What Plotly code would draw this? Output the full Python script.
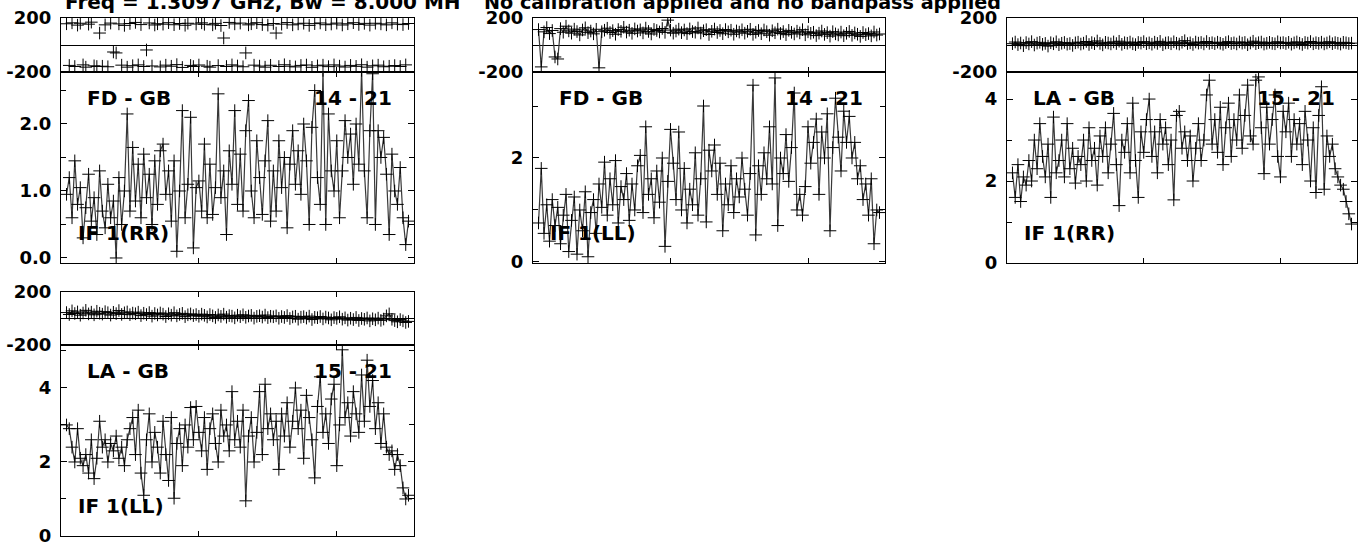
import plotly.graph_objects as go

W, H = 1366, 547

## channel numbers plotted (every second channel)
channels = list(range(4, 253, 2))

## phase (degrees) per baseline / polarisation
fdgb_rr_phase = [158, -152, 165, -160, 148, 162, -148, -165, 155, 170, -155, -160, 89, -158, 150, -162, 163, -52, -59, 157, -150, 146, -165, 160, -154,
                 168, -148, 152, -160, -37, 164, -156, 149, 158, -163, 155, -150, 166, -158, 151, -146, 160, -167, 147, 162, -152, -160, 156, -149, 165,
                 154, -158, -165, 150, 161, -153, 145, 52, -160, 168, -148, 157, -156, 163, -162, -59, 150, 158, -150, 166, -157, 152, -165, 148, -151,
                 160, 89, -160, 155, -147, 167, -158, 150, -163, 157, -152, 162, -149, 146, -166, 159, -155, 164, -150, 151, -161, 156, -148, 163, -157,
                 149, -164, 158, -152, 166, -159, 153, -147, 161, -165, 148, -155, 162, -150, 157, -162, 150, -158, 165, -153, 155, -160, 152, -148, 160]
fdgb_ll_phase = [115, -163, 98, 130, 85, 108, -89, -104, 122, 95, 140, 105, 88, 118, 100, 75, 112, 128, 92, 104, 83, 117, -170, 99, 110,
                 125, 93, 107, 80, 115, 102, 132, 96, 110, 87, 120, 104, 113, 90, 126, 101, 82, 116, 108, 97, 123, 94, 185, 111, 88,
                 104, 118, 92, 112, 85, 120, 100, 95, 127, 89, 106, 114, 78, 102, 119, 93, 108, 84, 115, 98, 110, 80, 105, 96, 113,
                 88, 102, 117, 79, 95, 108, 84, 112, 99, 73, 106, 91, 118, 86, 100, 77, 109, 94, 82, 103, 90, 114, 76, 98, 87,
                 95, 70, 88, 104, 79, 92, 66, 99, 83, 75, 96, 69, 87, 101, 72, 90, 80, 64, 93, 77, 85, 68, 97, 74, 82]
lagb_rr_phase = [10, 22, 3, 15, -5, 18, 8, 25, 0, 14, 20, 5, 12, -8, 17, 9, 24, 2, 13, 19, 6, 11, -3, 16, 21,
                 7, 14, 26, 4, 18, 10, 30, 12, 1, 20, 15, 8, 23, 11, 28, 5, 17, 13, 22, 9, 3, 19, 14, 25, 10,
                 16, 6, 21, 12, 27, 2, 15, 18, 9, 24, 13, 7, 20, 32, 11, 16, 4, 22, 14, 19, 8, 26, 12, 17, 10,
                 21, 13, 5, 18, 25, 11, 16, 8, 23, 14, 19, 2, 15, 28, 10, 17, 22, 7, 13, 20, 12, 9, 24, 15, 18,
                 11, 20, 6, 16, 23, 13, 4, 19, 14, 26, 9, 17, 12, 21, 8, 15, 24, 10, 18, 13, 7, 20, 16, 11, 14]
lagb_ll_phase = [45, 30, 58, 38, 50, 25, 42, 62, 35, 48, 28, 55, 40, 33, 52, 44, 26, 47, 37, 60, 31, 43, 50, 29, 41,
                 36, 48, 22, 40, 30, 45, 18, 38, 27, 42, 33, 15, 36, 25, 44, 20, 31, 39, 14, 28, 35, 22, 30, 17, 33,
                 24, 12, 30, 20, 8, 27, 16, 33, 10, 22, 18, 5, 25, 14, 28, 9, 19, 24, 3, 16, 21, 11, 26, 7, 17,
                 13, 20, 2, 15, 8, 22, 0, 12, 17, -5, 10, 14, 3, 18, -8, 9, 6, 15, -3, 11, 4, -10, 7, 1, 13,
                 -5, 5, -12, 2, -8, 8, -15, 0, -6, 4, -18, -2, -10, 3, -14, -4, 20, 35, -6, -16, -25, -8, -18, -30, -22]

## amplitude (Jy) per baseline / polarisation
fdgb_rr_amp = [0.95, 1.2, 0.6, 1.45, 0.8, 1.05, 0.3, 0.75, 1.25, 0.55, 0.9, 0.35, 1.3, 0.7, 0.45, 1.1, 0.6, 0.85, 0.0, 1.2, 0.5, 1.0, 2.15, 0.7, 1.65,
               0.85, 1.4, 0.6, 1.55, 0.9, 1.25, 0.5, 1.45, 0.8, 1.6, 1.7, 0.95, 1.3, 0.55, 1.45, 0.1, 1.0, 2.2, 0.6, 1.1, 2.1, 0.15, 1.05, 1.15, 0.7,
               1.7, 0.6, 1.4, 0.65, 1.05, 2.45, 0.9, 1.3, 0.35, 1.6, 1.1, 2.2, 0.8, 1.55, 0.7, 1.9, 2.35, 1.0, 0.6, 1.75, 1.2, 0.65, 1.45, 2.05, 0.55,
               1.3, 0.7, 1.75, 1.05, 1.5, 0.45, 1.4, 1.9, 1.1, 1.6, 0.95, 2.0, 1.45, 0.5, 1.95, 2.5, 1.2, 0.8, 2.8, 0.5, 2.15, 1.3, 1.0, 1.75, 0.6,
               1.3, 2.05, 1.5, 1.85, 1.1, 2.0, 1.4, 2.8, 1.3, 0.6, 1.9, 2.75, 0.5, 1.9, 1.5, 1.8, 1.25, 0.35, 1.55, 1.0, 0.8, 1.35, 0.6, 0.2, 0.55]
fdgb_ll_amp = [0.75, 1.8, 0.55, 1.1, 0.4, 1.2, 0.7, 1.05, 0.35, 0.9, 1.3, 0.2, 0.8, 1.25, 0.15, 1.0, 0.6, 1.35, 0.1, 0.95, 1.2, 0.55, 1.5, 1.05, 1.92,
               0.9, 1.6, 1.1, 1.95, 0.75, 1.45, 1.2, 1.7, 0.8, 1.5, 1.0, 1.85, 2.05, 0.95, 2.6, 1.3, 1.6, 0.85, 1.75, 1.15, 2.0, 0.3, 1.55, 2.55, 1.9,
               1.2, 2.5, 1.0, 1.8, 0.75, 1.4, 1.1, 2.1, 0.9, 1.6, 3.0, 0.77, 2.15, 1.75, 2.25, 1.3, 1.9, 0.6, 1.5, 1.1, 1.85, 0.95, 1.6, 1.25, 2.0,
               1.4, 0.9, 1.7, 3.4, 0.52, 1.85, 1.3, 2.1, 1.6, 2.6, 1.5, 3.54, 0.7, 2.0, 1.7, 2.45, 1.55, 2.2, 3.25, 1.0, 1.3, 0.9, 1.45, 2.6, 1.9,
               2.3, 2.75, 1.3, 2.5, 2.0, 2.85, 0.6, 2.2, 3.15, 2.4, 1.75, 2.9, 2.3, 2.8, 2.0, 2.3, 1.6, 1.85, 1.2, 1.5, 0.9, 1.6, 0.35, 1.0, 0.95]
lagb_rr_amp = [2.2, 1.6, 2.4, 1.5, 2.1, 1.9, 2.5, 2.0, 3.0, 2.3, 3.4, 2.6, 2.1, 2.9, 1.6, 3.56, 2.2, 2.5, 3.0, 2.1, 3.4, 2.3, 2.8, 1.95, 2.6,
               2.4, 3.0, 2.0, 3.3, 2.5, 2.8, 1.9, 3.1, 2.6, 3.3, 2.2, 2.9, 3.65, 2.4, 1.4, 3.0, 2.7, 3.4, 2.2, 3.9, 2.5, 1.6, 3.2, 2.7, 3.5,
               4.0, 2.6, 3.2, 2.2, 3.5, 2.9, 3.3, 2.4, 3.0, 1.54, 3.6, 3.7, 2.8, 3.2, 2.5, 3.1, 2.0, 2.8, 3.4, 2.5, 3.0, 4.1, 4.46, 2.9, 3.5,
               2.7, 3.8, 2.4, 3.3, 3.9, 2.6, 3.5, 3.0, 4.1, 2.8, 3.6, 4.34, 3.1, 2.9, 4.46, 4.54, 3.3, 2.18, 3.8, 2.9, 3.5, 4.1, 2.6, 2.1, 3.7,
               3.2, 3.9, 2.6, 3.5, 2.9, 3.4, 2.4, 3.7, 3.0, 2.0, 3.3, 1.72, 3.6, 4.3, 1.8, 3.1, 2.6, 2.9, 2.3, 2.1, 1.9, 1.8, 1.5, 1.2, 0.95]
lagb_ll_amp = [3.0, 2.9, 2.4, 2.0, 2.9, 2.1, 1.9, 2.2, 1.7, 2.6, 1.55, 2.1, 3.1, 2.4, 2.6, 2.0, 2.5, 2.3, 2.7, 2.1, 2.4, 1.9, 2.6, 2.9, 3.2,
               2.2, 3.4, 1.7, 1.1, 2.6, 3.3, 2.0, 2.8, 2.4, 1.7, 3.1, 2.2, 1.5, 3.2, 1.02, 2.5, 2.9, 1.9, 3.0, 2.4, 3.47, 2.6, 3.5, 2.8, 2.3,
               3.2, 1.8, 2.9, 3.3, 2.5, 2.0, 3.4, 2.7, 3.0, 2.3, 3.9, 2.6, 3.1, 2.4, 3.4, 0.95, 2.7, 3.2, 2.0, 2.8, 3.9, 2.2, 4.1, 2.9, 3.3,
               2.6, 3.1, 1.8, 3.3, 2.7, 3.6, 2.4, 3.1, 4.0, 2.9, 3.4, 2.1, 3.8, 3.2, 2.6, 1.57, 3.5, 4.3, 2.8, 3.3, 2.5, 3.7, 4.1, 1.9, 3.0,
               5.03, 3.2, 3.6, 2.7, 3.9, 3.3, 2.8, 4.35, 3.1, 4.75, 3.5, 4.2, 2.9, 3.6, 2.5, 3.3, 2.4, 2.2, 2.3, 1.8, 2.2, 1.9, 1.3, 1.0, 1.1]

## labels
baselines = ["FD - GB", "FD - GB", "LA - GB", "LA - GB"]
antenna_ids = ["14 - 21", "14 - 21", "15 - 21", "15 - 21"]
stokes = ["IF 1(RR)", "IF 1(LL)", "IF 1(RR)", "IF 1(LL)"]
phases = [fdgb_rr_phase, fdgb_ll_phase, lagb_rr_phase, lagb_ll_phase]
amps = [fdgb_rr_amp, fdgb_ll_amp, lagb_rr_amp, lagb_ll_amp]
phase_ticks = [-200, 200]
title_left = "Freq = 1.3097 GHz, Bw = 8.000 MH"
title_right = "No calibration applied and no bandpass applied"

for arr in phases + amps:
    assert len(arr) == len(channels), len(arr)

# panel boxes in pixels: left, right, phase top, phase bottom / amp top, amp bottom
boxes = [(61, 414, 18, 72, 263), (533, 885, 18, 72, 263), (1007, 1357, 18, 72, 263), (61, 414, 292, 345, 536)]
# amplitude axis: range, major dtick, minor dtick, format
amp_axes = [([-0.075, 2.776], 1, 0.5, ".1f"), ([-0.02, 3.654], 2, 1, "d"), ([0, 4.66], 2, 1, "d"), ([0, 5.16], 2, 1, "d")]

FONT = "DejaVu Sans"

def xd(a, b):
    return [a / W, b / W]

def yd(top, bottom):
    return [1 - bottom / H, 1 - top / H]

fig = go.Figure()
layout = dict(width=W, height=H, margin=dict(l=0, r=0, t=0, b=0, pad=0), autosize=False,
              paper_bgcolor="white", plot_bgcolor="white", showlegend=False,
              font=dict(family=FONT, size=18, color="black", weight="bold"))

marker = dict(symbol="cross-thin", size=9, color="black", line=dict(color="black", width=1))
line = dict(color="#383838", width=1.2)
annotations = []

for i in range(4):
    left, right, ptop, mid, bottom = boxes[i]
    n1, n2 = 2 * i + 1, 2 * i + 2
    s1, s2 = ("" if n1 == 1 else str(n1)), str(n2)

    ## phase trace (first baseline wraps round +-180, so no joining line)
    fig.add_trace(go.Scatter(x=channels, y=phases[i], xaxis="x" + s1, yaxis="y" + s1,
                             mode="markers" if i == 0 else "lines+markers",
                             line=line, marker=marker, hoverinfo="x+y"))
    ## amplitude trace
    fig.add_trace(go.Scatter(x=channels, y=amps[i], xaxis="x" + s2, yaxis="y" + s2,
                             mode="lines+markers", line=line, marker=marker, hoverinfo="x+y"))

    for s in [s1, s2]:
        layout["xaxis" + s] = dict(domain=xd(left, right), anchor="y" + s, range=[0, 256], automargin=False,
                                   tickvals=[100, 200], ticks="inside", ticklen=5, tickcolor="black",
                                   showticklabels=False, showline=True, linecolor="black", linewidth=1,
                                   mirror="ticks", showgrid=False, zeroline=False)

    layout["yaxis" + s1] = dict(domain=yd(ptop, mid), anchor="x" + s1, range=[-201, 201], automargin=False,
                                tickvals=phase_ticks, ticktext=[str(v) for v in phase_ticks],
                                ticks="", showline=True, linecolor="black", linewidth=1, mirror=True,
                                showgrid=False, zeroline=True, zerolinecolor="black", zerolinewidth=1,
                                ticklabelstandoff=5)
    rng, dt, mdt, fmt = amp_axes[i]
    layout["yaxis" + s2] = dict(domain=yd(mid, bottom), anchor="x" + s2, range=rng, automargin=False,
                                tick0=0, dtick=dt, tickformat=fmt, ticks="inside", ticklen=6, tickcolor="black",
                                minor=dict(dtick=mdt, tick0=0, ticks="inside", ticklen=5, tickcolor="black"),
                                showline=True, linecolor="black", linewidth=1, mirror="ticks",
                                showgrid=False, zeroline=False, ticklabelstandoff=5)

    lab_font = dict(family=FONT, size=20, color="black", weight="bold")
    annotations.append(dict(text=baselines[i], x=(left + 24) / W, y=1 - (mid + 26) / H,
                            xref="paper", yref="paper", xanchor="left", yanchor="middle",
                            showarrow=False, font=lab_font))
    annotations.append(dict(text=antenna_ids[i], x=(right - 20) / W, y=1 - (mid + 26) / H,
                            xref="paper", yref="paper", xanchor="right", yanchor="middle",
                            showarrow=False, font=lab_font))
    annotations.append(dict(text=stokes[i], x=(left + 15) / W, y=1 - (bottom - 30) / H,
                            xref="paper", yref="paper", xanchor="left", yanchor="middle",
                            showarrow=False, font=lab_font))

## header line, partly cut off at the top like the original
annotations.append(dict(text=title_left, x=63 / W, y=1 - 2.5 / H, xref="paper", yref="paper",
                        xanchor="left", yanchor="middle", showarrow=False,
                        font=dict(family=FONT, size=20, color="black", weight="bold")))
annotations.append(dict(text=title_right, x=482 / W, y=1 - 2.5 / H, xref="paper", yref="paper",
                        xanchor="left", yanchor="middle", showarrow=False,
                        font=dict(family=FONT, size=19.2, color="black", weight="bold")))

layout["annotations"] = annotations
fig.update_layout(**layout)

fig.write_html("out.html", config={"displayModeBar": False},
               post_script="document.body.style.margin='0';document.body.style.overflow='hidden';")
